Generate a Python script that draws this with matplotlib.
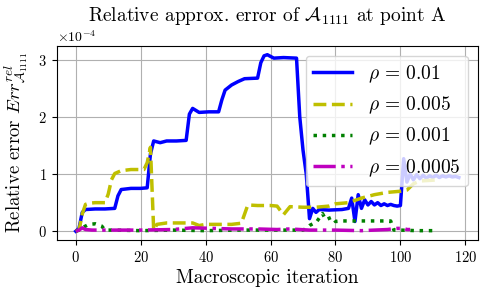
import matplotlib
matplotlib.use("Agg")
import matplotlib.pyplot as plt
import numpy as np

plt.rcParams['font.family'] = 'serif'
plt.rcParams['font.serif'] = ['cmr10', 'DejaVu Serif']
plt.rcParams['mathtext.fontset'] = 'cm'
plt.rcParams['axes.formatter.use_mathtext'] = True

# values in units of 1e-4
it_a = [0, 1, 2, 3, 6, 9, 12, 13, 14, 17, 20, 22, 23, 24, 26, 28, 31, 34, 35, 36, 38, 41, 44,
        45, 46, 48, 50, 52, 56, 57, 58, 59, 61, 64, 68, 69, 70, 71, 72, 73, 74, 75, 78, 82, 84,
        85, 86, 87, 88, 89, 90, 91, 92, 93, 94, 95, 96, 97, 98, 99, 100, 101, 102, 103, 104,
        105, 106, 107, 108, 109, 110, 111, 112, 113, 114, 115, 116, 117, 118]
err_a = [0.0, 0.05, 0.33, 0.38, 0.39, 0.39, 0.40, 0.62, 0.73, 0.75, 0.75, 0.76, 1.35, 1.58, 1.55,
         1.58, 1.58, 1.59, 2.05, 2.15, 2.08, 2.09, 2.09, 2.30, 2.47, 2.56, 2.62, 2.67, 2.68, 2.95,
         3.07, 3.09, 3.03, 3.04, 3.03, 2.00, 1.42, 1.00, 0.22, 0.40, 0.33, 0.38, 0.37, 0.38, 0.40,
         0.58, 0.17, 0.64, 0.40, 0.55, 0.46, 0.52, 0.46, 0.50, 0.45, 0.48, 0.45, 0.47, 0.45, 0.44,
         0.45, 1.27, 0.86, 1.00, 0.90, 0.99, 0.92, 0.98, 0.93, 0.97, 0.94, 0.98, 0.94, 0.97, 0.95,
         0.97, 0.95, 0.96, 0.94]

it_b = [0, 1, 2, 3, 4, 6, 9, 10, 11, 12, 14, 17, 21, 22, 23, 24, 25, 28, 32, 36, 38, 40, 44,
        48, 51, 52, 53, 56, 60, 62, 64, 66, 70, 74, 78, 80, 84, 88, 92, 96, 100, 102, 104, 106,
        109, 112]
err_b = [0.0, 0.02, 0.30, 0.47, 0.49, 0.50, 0.50, 0.65, 0.90, 1.01, 1.06, 1.08, 1.08, 1.20, 1.47,
         0.02, 0.12, 0.145, 0.145, 0.145, 0.10, 0.12, 0.12, 0.12, 0.14, 0.30, 0.46, 0.45, 0.45,
         0.44, 0.29, 0.43, 0.42, 0.42, 0.44, 0.48, 0.50, 0.58, 0.64, 0.68, 0.70, 0.72, 0.83, 0.88,
         0.89, 0.90]

it_c = [0, 1, 2, 4, 6, 8, 9, 12, 20, 30, 40, 50, 60, 70, 71, 72, 73, 74, 76, 77, 79, 80, 82, 86,
        90, 94, 97, 98, 100, 105, 111]
err_c = [0.0, 0.02, 0.06, 0.12, 0.13, 0.09, 0.02, 0.02, 0.01, 0.02, 0.01, 0.02, 0.02, 0.02, 0.05,
         0.10, 0.13, 0.15, 0.31, 0.20, 0.25, 0.17, 0.18, 0.18, 0.18, 0.18, 0.18, 0.02, 0.02, 0.01,
         0.01]

it_d = [0, 1, 2, 3, 5, 10, 20, 30, 36, 42, 48, 56, 62, 66, 72, 80, 88, 96, 99, 101, 102, 103]
err_d = [0.0, 0.02, 0.06, 0.03, 0.02, 0.02, 0.02, 0.03, 0.06, 0.05, 0.04, 0.04, 0.03, 0.04, 0.02,
         0.02, 0.01, 0.03, 0.05, 0.05, 0.03, 0.03]

labels = [r'$\rho\,=\,0.01$', r'$\rho\,=\,0.005$', r'$\rho\,=\,0.001$', r'$\rho\,=\,0.0005$']

fig = plt.figure(figsize=(4.88, 2.96), dpi=100)
ax = fig.add_axes([0.116, 0.189, 0.8635, 0.656])

scale = 1e-4
ax.plot(it_a, np.array(err_a) * scale, '-', color='b', lw=2.5, label=labels[0])
ax.plot(it_b, np.array(err_b) * scale, '--', color='y', lw=2.5, label=labels[1])
ax.plot(it_c, np.array(err_c) * scale, ':', color='g', lw=2.5, label=labels[2])
ax.plot(it_d, np.array(err_d) * scale, '-.', color='m', lw=2.5, label=labels[3])

ax.ticklabel_format(axis='y', style='sci', scilimits=(0, 0))
ax.set_xticks([0, 20, 40, 60, 80, 100, 120])
ax.set_yticks([0, 1e-4, 2e-4, 3e-4])
ax.grid(True, color='#b0b0b0', lw=0.8)
ax.tick_params(labelsize=10.5)
ax.yaxis.get_offset_text().set_fontsize(10)

ax.set_title(r'Relative approx. error of $\mathcal{A}_{1111}$ at point A', fontsize=14, pad=18)
ax.set_xlabel('Macroscopic iteration', fontsize=14, labelpad=3)
ax.set_ylabel(r'Relative error $Err^{rel}_{\mathcal{A}_{1111}}$', fontsize=13.5, labelpad=6)
ax.legend(loc='upper right', fontsize=14)

fig.savefig('out.png', dpi=100)
